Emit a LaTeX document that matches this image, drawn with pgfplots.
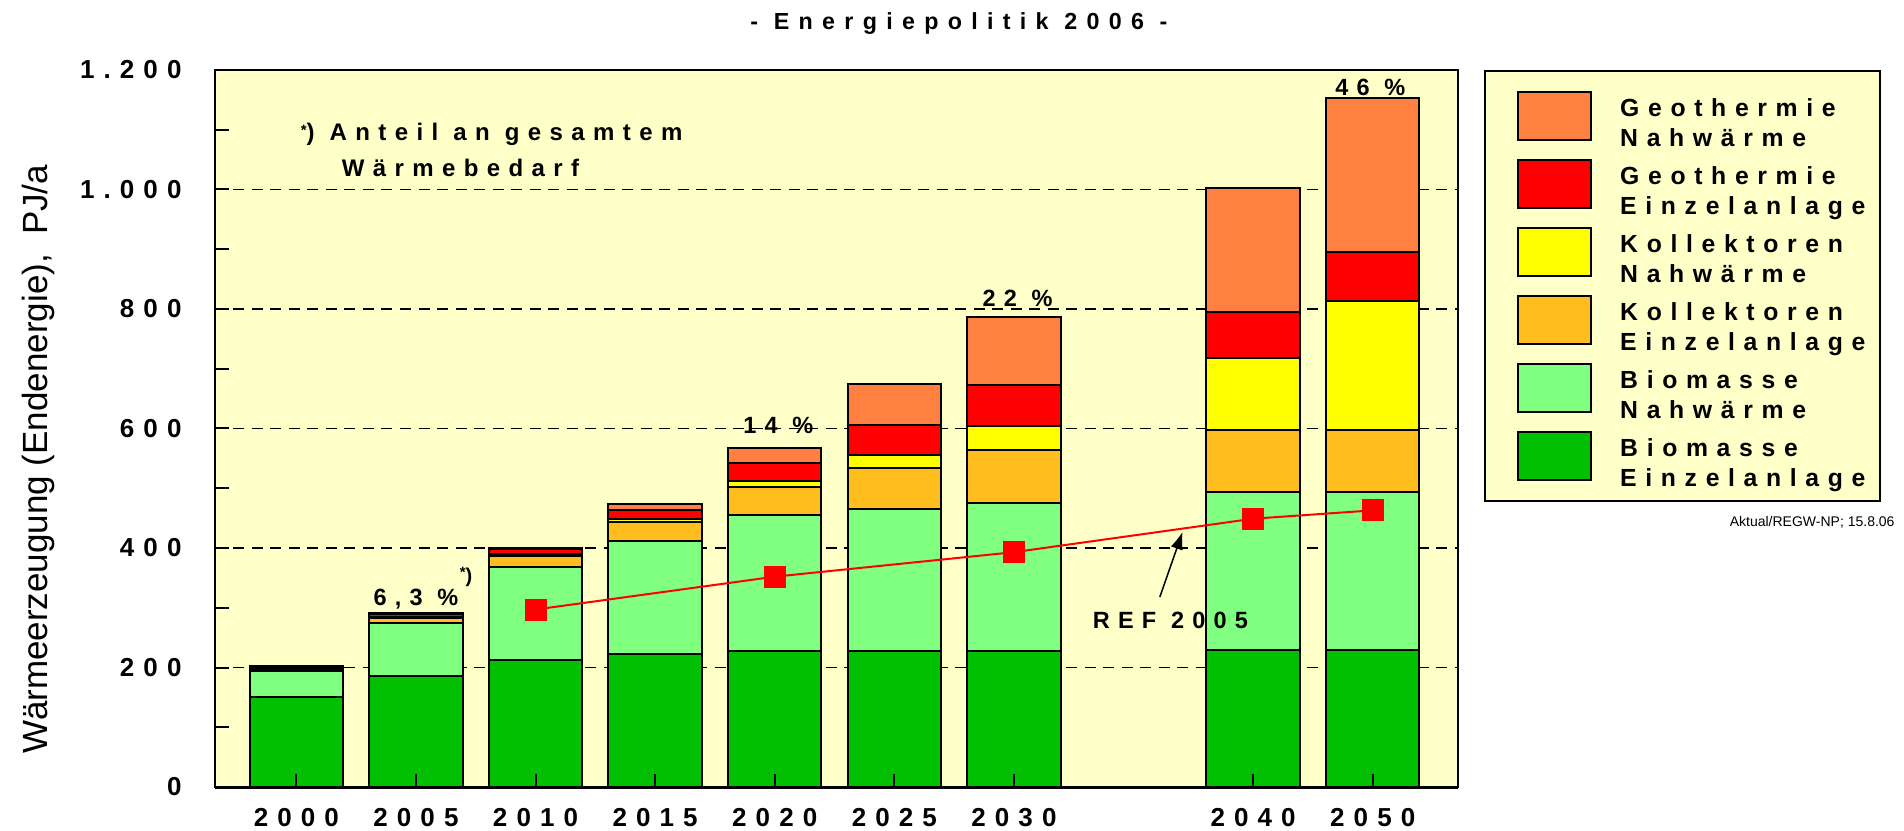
\documentclass[border=0pt]{standalone}
\usepackage{fontspec}
\setmainfont{Liberation Sans}
\newfontfamily\spfont[LetterSpace=35]{Liberation Sans}
\newfontfamily\ttlfont[LetterSpace=40]{Liberation Sans}
\usepackage{pgfplots}
\pgfplotsset{compat=1.18}
\usepackage{pgfplotstable}
\usetikzlibrary{arrows.meta}

\definecolor{geonah}{RGB}{255,128,64}
\definecolor{geoein}{RGB}{255,0,0}
\definecolor{kolnah}{RGB}{255,255,0}
\definecolor{kolein}{RGB}{255,190,30}
\definecolor{bionah}{RGB}{128,255,128}
\definecolor{bioein}{RGB}{0,192,0}
\definecolor{bg}{RGB}{255,255,200}

\newcommand{\twol}[2]{\begin{tabular}{@{}l@{}}#1\\#2\end{tabular}}
\newcommand{\lbl}{\spfont\bfseries\fontsize{9.4}{10}\selectfont}

% Waermeerzeugung in PJ/a, pos = Lage auf der x-Achse (2040 nach Luecke)
\pgfplotstableread{
pos BioEin BioNah KolEin KolNah GeoEin GeoNah
0 150 44 3 1 3 2
1 185 90 8 1 6 1
2 213 156 18 3 9 1
3 222 189 33 5 14 10
4 228 228 46 10 31 24
5 228 238 68 22 50 68
6 228 248 88 41 68 113
8 229 265 104 120 77 208
9 229 265 104 216 81 258
}\waerme

\pgfplotstableread{
pos ref
2 297
4 352
6 393
8 449
9 463
}\refdata

\begin{document}
\begin{tikzpicture}
\pgfplotsset{
  base/.style={
    width=497.2pt, height=286.8pt, scale only axis,
    xmin=-0.68, xmax=9.713, ymin=0, ymax=1200,
    clip=false,
  },
}
\begin{axis}[base,
  ybar stacked, bar width=0.78,
  axis background/.style={fill=bg},
  axis line style={black, line width=0.8pt},
  xtick={0,1,2,3,4,5,6,8,9},
  xticklabels={2000,2005,2010,2015,2020,2025,2030,2040,2050},
  ytick={0,200,...,1200},
  yticklabels={0,200,400,600,800,1.000,1.200},
  minor y tick num=1,
  xtick pos=bottom, ytick pos=left,
  tick align=inside,
  major tick length=5.6pt, minor tick length=5.6pt,
  tick style={black, line width=0.8pt},
  ymajorgrids,
  major grid style={black, line width=0.6pt, dash pattern=on 4.4pt off 3pt},
  xticklabel style={font=\spfont\bfseries\fontsize{10.4}{12}\selectfont, anchor=north, inner sep=0pt, yshift=-8.4pt},
  yticklabel style={font=\spfont\bfseries\fontsize{10.4}{12}\selectfont, anchor=east, inner sep=0pt, xshift=-13.2pt},
  ylabel={Wärmeerzeugung (Endenergie),\hspace{0.55em}PJ/a},
  every axis y label/.style={at={(rel axis cs:-0.1424,0.457)}, rotate=90, anchor=center, font=\fontsize{14}{16}\selectfont},
  reverse legend,
  legend cell align=left,
  legend style={
    at={(1.0209,1)}, anchor=north west,
    fill=bg, draw=black, line width=0.8pt,
    inner xsep=5.7pt, inner ysep=8pt,
    row sep=7.2pt,
    font=\spfont\bfseries\fontsize{9.9}{11.7}\selectfont,
    /tikz/every odd column/.append style={column sep=11.3pt},
    nodes={inner sep=0pt},
  },
  legend image code/.code={
    \path (0pt,0pt);
    \draw[#1, draw=black, line width=0.8pt] (7.1pt,-9.6pt) rectangle (36.3pt,9.6pt);
  },
]
\addplot[fill=bioein, draw=black, line width=0.8pt] table[x=pos, y=BioEin] {\waerme};
\addlegendentry{\twol{Biomasse}{Einzelanlage}}
\addplot[fill=bionah, draw=black, line width=0.8pt] table[x=pos, y=BioNah] {\waerme};
\addlegendentry{\twol{Biomasse}{Nahwärme}}
\addplot[fill=kolein, draw=black, line width=0.8pt] table[x=pos, y=KolEin] {\waerme};
\addlegendentry{\twol{Kollektoren}{Einzelanlage}}
\addplot[fill=kolnah, draw=black, line width=0.8pt] table[x=pos, y=KolNah] {\waerme};
\addlegendentry{\twol{Kollektoren}{Nahwärme}}
\addplot[fill=geoein, draw=black, line width=0.8pt] table[x=pos, y=GeoEin] {\waerme};
\addlegendentry{\twol{Geothermie}{Einzelanlage}}
\addplot[fill=geonah, draw=black, line width=0.8pt] table[x=pos, y=GeoNah] {\waerme};
\addlegendentry{\twol{Geothermie}{Nahwärme}}

% Anteile am gesamten Waermebedarf
\node[font=\lbl, anchor=base] at (axis cs:1,303) {6,3 \%};
\node[font=\spfont\bfseries\fontsize{8}{9}\selectfont] at (axis cs:1.42,352) {\raisebox{2pt}{\fontsize{6}{6}\selectfont*})};
\node[font=\lbl, anchor=base] at (axis cs:4.03,591) {14 \%};
\node[font=\lbl, anchor=base] at (axis cs:6.03,805) {22 \%};
\node[font=\lbl, anchor=base] at (axis cs:8.98,1158) {46 \%};

% Texte ausserhalb / im Diagramm
\node[font=\ttlfont\bfseries\fontsize{9.3}{10}\selectfont, anchor=base] at (rel axis cs:0.5985,1.0568) {- Energiepolitik 2006 -};
\node[font=\spfont\bfseries\fontsize{9.6}{10}\selectfont, anchor=base west] at (rel axis cs:0.0619,0.901) {\raisebox{2pt}{\fontsize{6}{6}\selectfont*}) Anteil an gesamtem};
\node[font=\spfont\bfseries\fontsize{9.6}{10}\selectfont, anchor=base west] at (rel axis cs:0.0949,0.8517) {Wärmebedarf};
\node[font=\fontsize{5.6}{6}\selectfont, anchor=east, inner sep=0pt] at (rel axis cs:1.3516,0.3696) {Aktual/REGW-NP; 15.8.06};
\end{axis}

% zweite Achse: Referenzlinie, Achsenlinie unten und Striche ueber den Balken
\begin{axis}[base,
  axis line style={draw=none},
  xtick={0,1,2,3,4,5,6,8,9}, xticklabels={,,,,,,,,},
  ytick=\empty,
  xtick pos=bottom, tick align=inside,
  major tick length=5.3pt,
  tick style={black, line width=0.8pt},
]
\draw[black, line width=1.2pt] (rel axis cs:0,0) -- (rel axis cs:1,0);
\addplot[red, line width=0.8pt, mark=square*, mark size=4pt, mark options={solid, fill=red, draw=red}] table[x=pos, y=ref] {\refdata};
\draw[black, line width=0.6pt, -{Latex[length=7pt, width=5pt]}] (axis cs:7.22,318) -- (axis cs:7.41,427);
\node[font=\lbl, anchor=base west] at (axis cs:6.586,266) {REF 2005};
\end{axis}

\pgfresetboundingbox
\path[use as bounding box] (-86pt,-17.2pt) rectangle (675.6pt,314.8pt);
\end{tikzpicture}
\end{document}
